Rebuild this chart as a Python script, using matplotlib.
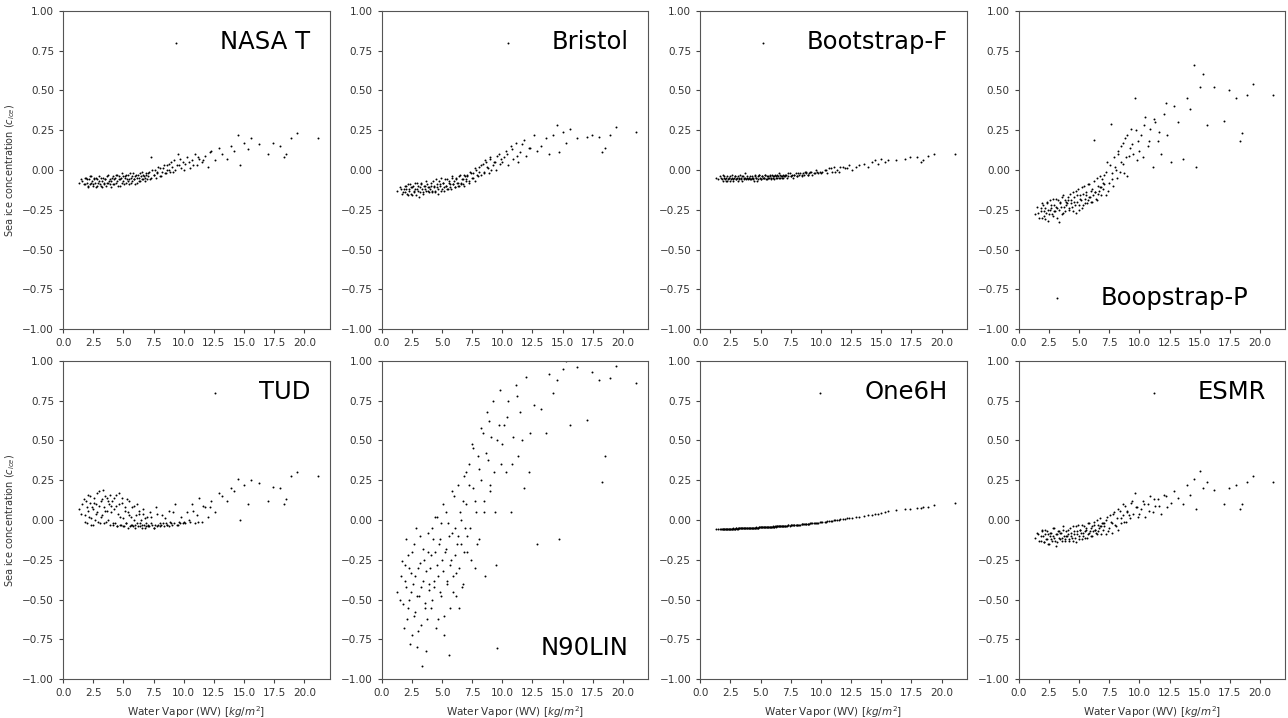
import matplotlib
matplotlib.use("Agg")
import matplotlib.pyplot as plt

# Water vapour (shared x for all panels)
x_wv = [1.3, 1.6, 1.8, 1.9, 2.0, 2.1, 2.2, 2.3, 2.4, 2.5, 2.6, 2.7, 2.8, 2.9, 3.0, 3.1, 3.2, 3.3, 3.4, 3.5, 3.6, 3.7, 3.8, 3.9,
        4.0, 4.1, 4.2, 4.3, 4.4, 4.5, 4.6, 4.7, 4.8, 4.9, 5.0, 5.1, 5.2, 5.3, 5.4, 5.5, 5.6, 5.7, 5.8, 5.9,
        6.0, 6.1, 6.2, 6.3, 6.4, 6.5, 6.6, 6.7, 6.8, 6.9,
        7.0, 7.1, 7.2, 7.3, 7.5, 7.6, 7.7, 7.8, 8.0, 8.1, 8.2, 8.4, 8.5, 8.6, 8.8, 8.9, 9.0, 9.2, 9.3, 9.5, 9.6, 9.8, 9.9,
        10.1, 10.3, 10.5, 10.7, 10.9, 11.1, 11.3, 11.5, 11.8, 12.0, 12.3, 12.6, 12.9,
        13.2, 13.6, 13.9, 14.2, 14.5, 14.7, 15.0, 15.3, 15.6, 16.2,
        17.0, 17.4, 18.0, 18.3, 18.5, 18.9, 19.4, 21.1,
        1.5, 1.7, 1.85, 1.95, 2.05, 2.15, 2.25, 2.35, 2.45, 2.55, 2.65, 2.75, 2.85, 2.95, 3.05, 3.15, 3.25, 3.35, 3.45, 3.55, 3.65, 3.75, 3.85, 3.95,
        4.05, 4.15, 4.25, 4.35, 4.45, 4.55, 4.65, 4.75, 4.85, 4.95, 5.05, 5.15, 5.25, 5.35, 5.45, 5.55, 5.65, 5.75, 5.85, 5.95,
        6.05, 6.15, 6.25, 6.35, 6.45, 6.55, 6.65, 6.75, 6.85, 6.95,
        7.05, 7.25, 7.4, 7.55, 7.75, 7.9, 8.05, 8.25, 8.45, 8.65, 8.75, 8.95, 9.1, 9.4, 9.7,
        10.0, 10.4, 10.8, 11.2, 11.6, 12.2]

y_nasat = [-0.08, -0.07, -0.09, -0.05, -0.06, -0.10, -0.04, -0.08, -0.07, -0.09, -0.05, -0.11, -0.06, -0.08, -0.04, -0.10, -0.07, -0.05, -0.09, -0.06, -0.08, -0.03, -0.07, -0.09,
           -0.07, -0.04, -0.09, -0.05, -0.08, -0.03, -0.06, -0.10, -0.05, -0.02, -0.07, -0.04, -0.08, -0.06, -0.03, -0.09, -0.05, -0.07, -0.02, -0.06,
           -0.04, -0.08, -0.03, -0.05, -0.07, -0.01, -0.06, -0.04, -0.07, -0.03,
           -0.04, -0.01, -0.06, 0.08, -0.03, 0.00, -0.05, -0.02, 0.01, -0.04, -0.01, 0.03, -0.02, 0.00, 0.04, -0.01, 0.02, 0.06, 0.00, 0.10, 0.03, 0.01, 0.05,
           0.04, 0.08, 0.01, 0.06, 0.10, 0.03, 0.07, 0.05, 0.09, 0.02, 0.12, 0.06, 0.14,
           0.10, 0.07, 0.15, 0.12, 0.22, 0.03, 0.17, 0.13, 0.20, 0.16,
           0.10, 0.17, 0.15, 0.08, 0.10, 0.20, 0.23, 0.20,
           -0.06, -0.09, -0.05, -0.08, -0.11, -0.06, -0.09, -0.04, -0.10, -0.06, -0.08, -0.05, -0.10, -0.07, -0.09, -0.05, -0.11, -0.08, -0.06, -0.10, -0.04, -0.08, -0.06, -0.11,
           -0.05, -0.09, -0.06, -0.03, -0.07, -0.10, -0.04, -0.06, -0.08, -0.04, -0.09, -0.05, -0.03, -0.07, -0.06, -0.02, -0.08, -0.04, -0.06, -0.09,
           -0.03, -0.05, -0.07, -0.02, -0.04, -0.06, -0.03, -0.05, -0.02, -0.06,
           -0.02, -0.05, 0.00, -0.03, -0.01, 0.02, -0.04, 0.01, -0.02, 0.03, 0.00, 0.05, -0.01, 0.03, 0.07,
           0.00, 0.05, 0.03, 0.08, 0.06, 0.11]

y_bristol = [-0.13, -0.12, -0.14, -0.10, -0.12, -0.15, -0.09, -0.13, -0.11, -0.16, -0.10, -0.14, -0.12, -0.08, -0.13, -0.17, -0.11, -0.09, -0.14, -0.10, -0.12, -0.07, -0.13, -0.11,
             -0.12, -0.08, -0.14, -0.10, -0.13, -0.06, -0.11, -0.15, -0.09, -0.05, -0.12, -0.08, -0.13, -0.10, -0.06, -0.12, -0.08, -0.11, -0.04, -0.09,
             -0.07, -0.11, -0.05, -0.08, -0.10, -0.03, -0.09, -0.06, -0.10, -0.04,
             -0.06, -0.03, -0.08, -0.01, -0.05, -0.02, -0.07, 0.00, -0.04, 0.02, -0.03, 0.04, -0.01, 0.06, 0.01, -0.02, 0.08, 0.03, 0.05, 0.00, 0.09, 0.04, 0.07,
             0.08, 0.12, 0.03, 0.15, 0.07, 0.17, 0.05, 0.11, 0.19, 0.09, 0.14, 0.22, 0.12,
             0.15, 0.20, 0.10, 0.22, 0.28, 0.11, 0.24, 0.17, 0.26, 0.20,
             0.21, 0.22, 0.21, 0.11, 0.14, 0.22, 0.27, 0.24,
             -0.11, -0.15, -0.12, -0.14, -0.10, -0.16, -0.12, -0.09, -0.15, -0.11, -0.13, -0.08, -0.16, -0.12, -0.10, -0.14, -0.08, -0.12, -0.15, -0.10, -0.13, -0.09, -0.11, -0.14,
             -0.10, -0.13, -0.07, -0.11, -0.14, -0.09, -0.12, -0.07, -0.10, -0.13, -0.08, -0.11, -0.06, -0.10, -0.12, -0.07, -0.09, -0.12, -0.05, -0.09,
             -0.11, -0.06, -0.08, -0.10, -0.04, -0.08, -0.06, -0.09, -0.03, -0.07,
             -0.04, -0.07, -0.02, -0.05, 0.01, -0.03, -0.01, 0.03, -0.02, 0.05, 0.02, 0.07, 0.00, 0.05, 0.10,
             0.05, 0.10, 0.13, 0.09, 0.16, 0.14]

y_bootf = [-0.05, -0.04, -0.06, -0.03, -0.05, -0.07, -0.04, -0.06, -0.05, -0.07, -0.03, -0.06, -0.05, -0.04, -0.06, -0.07, -0.05, -0.03, -0.06, -0.04, -0.05, -0.02, -0.06, -0.05,
           -0.05, -0.04, -0.06, -0.05, -0.06, -0.03, -0.05, -0.07, -0.04, -0.03, -0.06, -0.04, -0.05, -0.05, -0.03, -0.06, -0.04, -0.05, -0.03, -0.05,
           -0.04, -0.06, -0.03, -0.04, -0.05, -0.02, -0.05, -0.04, -0.05, -0.03,
           -0.04, -0.03, -0.05, -0.02, -0.04, -0.03, -0.05, -0.03, -0.04, -0.02, -0.03, -0.04, -0.02, -0.03, -0.01, -0.03, -0.02, -0.01, -0.03, -0.02, 0.00, -0.02, -0.01,
           -0.01, 0.00, -0.02, 0.01, -0.01, 0.02, 0.00, -0.01, 0.02, 0.01, 0.03, 0.00, 0.02,
           0.03, 0.04, 0.02, 0.05, 0.06, 0.04, 0.07, 0.05, 0.06, 0.06,
           0.07, 0.08, 0.08, 0.05, 0.06, 0.09, 0.10, 0.10,
           -0.06, -0.05, -0.07, -0.04, -0.06, -0.05, -0.07, -0.05, -0.04, -0.06, -0.05, -0.07, -0.04, -0.06, -0.05, -0.04, -0.06, -0.05, -0.07, -0.04, -0.06, -0.05, -0.04, -0.06,
           -0.05, -0.06, -0.04, -0.05, -0.07, -0.04, -0.05, -0.06, -0.03, -0.05, -0.06, -0.04, -0.05, -0.03, -0.06, -0.04, -0.05, -0.04, -0.06, -0.03,
           -0.05, -0.04, -0.05, -0.03, -0.04, -0.05, -0.03, -0.04, -0.05, -0.04,
           -0.03, -0.04, -0.02, -0.04, -0.03, -0.02, -0.04, -0.02, -0.03, -0.01, -0.02, -0.03, -0.01, -0.02, -0.01,
           -0.02, 0.00, 0.01, -0.01, 0.02, 0.01]

y_bootp = [-0.28, -0.27, -0.24, -0.30, -0.22, -0.26, -0.31, -0.21, -0.25, -0.28, -0.19, -0.24, -0.29, -0.22, -0.26, -0.18, -0.24, -0.33, -0.20, -0.23, -0.17, -0.27, -0.19, -0.22,
           -0.21, -0.17, -0.25, -0.19, -0.23, -0.14, -0.20, -0.27, -0.16, -0.12, -0.22, -0.18, -0.24, -0.15, -0.10, -0.21, -0.16, -0.19, -0.09, -0.17,
           -0.13, -0.20, 0.19, -0.14, -0.18, -0.05, -0.15, -0.11, -0.16, -0.06,
           -0.12, -0.03, -0.16, 0.05, -0.08, 0.29, -0.02, -0.10, 0.02, -0.05, 0.10, -0.01, 0.15, 0.04, 0.20, 0.08, -0.04, 0.14, 0.26, 0.10, 0.45, 0.06, 0.18,
           0.22, 0.08, 0.33, 0.15, 0.26, 0.02, 0.30, 0.18, 0.10, 0.35, 0.22, 0.05, 0.40,
           0.30, 0.07, 0.45, 0.38, 0.66, 0.02, 0.52, 0.60, 0.28, 0.52,
           0.31, 0.50, 0.45, 0.18, 0.23, 0.47, 0.54, 0.47,
           -0.23, -0.30, -0.26, -0.21, -0.29, -0.24, -0.27, -0.20, -0.32, -0.25, -0.22, -0.28, -0.18, -0.26, -0.23, -0.30, -0.19, -0.25, -0.21, -0.28, -0.16, -0.23, -0.26, -0.20,
           -0.19, -0.24, -0.15, -0.21, -0.26, -0.17, -0.22, -0.13, -0.20, -0.25, -0.16, -0.19, -0.11, -0.22, -0.18, -0.14, -0.21, -0.09, -0.17, -0.20,
           -0.12, -0.16, -0.07, -0.14, -0.19, -0.10, -0.13, -0.04, -0.11, -0.08,
           -0.09, -0.01, -0.13, 0.03, -0.06, 0.08, 0.00, 0.12, 0.05, 0.17, -0.02, 0.22, 0.09, 0.16, 0.25,
           0.12, 0.28, 0.18, 0.32, 0.24, 0.42]

y_tud = [0.07, 0.10, 0.03, 0.12, -0.02, 0.06, 0.15, 0.01, 0.08, -0.03, 0.11, 0.04, 0.17, -0.01, 0.09, 0.02, 0.13, 0.19, -0.02, 0.06, 0.14, 0.00, 0.10, 0.16,
         0.05, -0.03, 0.14, -0.02, 0.09, -0.04, 0.17, 0.02, -0.03, 0.11, -0.04, 0.06, -0.02, 0.13, -0.05, 0.03, -0.03, 0.08, -0.04, 0.00,
         -0.03, 0.10, -0.04, 0.04, -0.02, -0.05, 0.07, -0.03, 0.01, -0.04,
         -0.03, -0.04, 0.05, -0.02, -0.05, -0.03, 0.08, -0.04, -0.02, -0.03, 0.03, -0.04, -0.02, -0.03, 0.06, -0.01, -0.03, -0.02, 0.10, -0.03, -0.01, 0.02, -0.02,
         -0.02, 0.05, -0.01, 0.10, -0.02, 0.03, 0.14, -0.01, 0.08, 0.02, 0.12, 0.05, 0.17,
         0.15, 0.12, 0.20, 0.18, 0.26, 0.00, 0.22, 0.10, 0.25, 0.23,
         0.12, 0.21, 0.20, 0.10, 0.13, 0.28, 0.30, 0.28,
         0.04, 0.13, -0.01, 0.08, 0.16, 0.02, 0.11, -0.03, 0.07, 0.14, 0.00, 0.10, 0.05, 0.18, -0.02, 0.12, 0.03, 0.08, 0.15, -0.01, 0.06, 0.12, -0.03, 0.09,
         0.12, -0.02, 0.07, 0.16, -0.04, 0.04, 0.10, -0.03, 0.14, 0.01, -0.04, 0.08, -0.02, 0.05, 0.12, -0.04, 0.02, -0.03, 0.09, -0.05,
         0.03, -0.02, 0.06, -0.04, 0.00, -0.03, 0.04, -0.05, -0.02, 0.02,
         -0.04, 0.02, -0.03, -0.05, 0.04, -0.03, -0.04, -0.02, 0.01, -0.03, -0.04, -0.02, 0.05, -0.03, -0.02,
         -0.01, 0.00, 0.06, -0.01, 0.09, 0.08]

y_n90lin = [-0.45, -0.35, -0.53, -0.28, -0.42, -0.62, -0.22, -0.50, -0.33, -0.72, -0.40, -0.15, -0.58, -0.80, -0.30, -0.48, -0.10, -0.66, -0.38, -0.25, -0.55, -0.82, -0.20, -0.44,
            -0.30, -0.55, -0.05, -0.42, -0.20, -0.68, 0.02, -0.35, -0.12, -0.48, -0.25, 0.10, -0.60, -0.18, -0.38, -0.02, -0.85, -0.28, -0.08, -0.45,
            0.15, -0.22, -0.33, -0.10, -0.55, 0.05, -0.15, -0.40, 0.28, -0.05,
            0.10, -0.20, 0.35, -0.05, 0.48, 0.20, -0.30, 0.05, 0.40, -0.12, 0.25, 0.55, 0.12, -0.35, 0.38, 0.62, 0.18, 0.75, 0.30, -0.28, 0.50, 0.82, 0.35,
            0.60, 0.30, 0.75, 0.05, 0.52, 0.85, 0.40, 0.68, 0.20, 0.90, 0.55, 0.72, -0.15,
            0.70, 0.55, 0.92, 0.80, 0.88, -0.12, 0.95, 1.00, 0.60, 0.96,
            0.63, 0.93, 0.88, 0.24, 0.40, 0.89, 0.97, 0.86,
            -0.50, -0.26, -0.68, -0.38, -0.12, -0.55, -0.30, -0.78, -0.45, -0.20, -0.60, -0.35, -0.05, -0.48, -0.70, -0.27, -0.42, -0.92, -0.18, -0.52, -0.32, -0.62, -0.08, -0.40,
            -0.22, -0.50, -0.12, -0.38, 0.02, -0.28, -0.62, -0.15, -0.45, -0.02, -0.32, -0.72, -0.20, 0.05, -0.40, -0.10, -0.55, -0.25, 0.18, -0.35,
            -0.05, -0.48, -0.15, 0.22, -0.30, 0.00, -0.42, 0.12, -0.20, 0.30,
            -0.10, 0.22, -0.25, 0.45, 0.12, -0.15, 0.32, 0.58, 0.05, 0.42, 0.68, 0.22, 0.52, 0.05, 0.60,
            0.48, 0.65, 0.35, 0.78, 0.50, 0.30]

y_one6h = [-0.057, -0.056, -0.056, -0.055, -0.055, -0.056, -0.054, -0.055, -0.054, -0.055, -0.053, -0.054, -0.053, -0.053, -0.052, -0.053, -0.052, -0.051, -0.052, -0.051, -0.051, -0.050, -0.051, -0.050,
           -0.050, -0.049, -0.050, -0.048, -0.049, -0.047, -0.048, -0.047, -0.047, -0.046, -0.046, -0.045, -0.046, -0.044, -0.044, -0.045, -0.043, -0.043, -0.042, -0.043,
           -0.041, -0.042, -0.040, -0.041, -0.039, -0.040, -0.038, -0.039, -0.037, -0.038,
           -0.037, -0.036, -0.036, -0.034, -0.034, -0.032, -0.033, -0.031, -0.030, -0.029, -0.029, -0.027, -0.026, -0.026, -0.024, -0.023, -0.023, -0.020, -0.021, -0.018, -0.017, -0.016, -0.015,
           -0.012, -0.010, -0.008, -0.006, -0.004, -0.002, 0.000, 0.002, 0.004, 0.007, 0.010, 0.013, 0.017,
           0.022, 0.027, 0.030, 0.034, 0.038, 0.041, 0.046, 0.050, 0.054, 0.062,
           0.068, 0.072, 0.078, 0.075, 0.080, 0.085, 0.092, 0.105,
           -0.056, -0.055, -0.056, -0.054, -0.055, -0.054, -0.055, -0.053, -0.054, -0.053, -0.054, -0.052, -0.053, -0.052, -0.053, -0.051, -0.052, -0.051, -0.052, -0.050, -0.051, -0.050, -0.051, -0.049,
           -0.049, -0.050, -0.048, -0.049, -0.047, -0.048, -0.046, -0.047, -0.046, -0.045, -0.046, -0.044, -0.045, -0.043, -0.044, -0.042, -0.043, -0.042, -0.041, -0.042,
           -0.040, -0.041, -0.039, -0.040, -0.038, -0.039, -0.037, -0.038, -0.036, -0.037,
           -0.037, -0.034, -0.035, -0.032, -0.031, -0.031, -0.029, -0.028, -0.026, -0.025, -0.023, -0.022, -0.020, -0.018, -0.016,
           -0.014, -0.009, -0.005, 0.000, 0.004, 0.010]

y_esmr = [-0.11, -0.09, -0.13, -0.07, -0.10, -0.14, -0.06, -0.12, -0.09, -0.15, -0.08, -0.12, -0.10, -0.05, -0.13, -0.16, -0.09, -0.07, -0.12, -0.08, -0.11, -0.04, -0.13, -0.10,
          -0.10, -0.06, -0.13, -0.08, -0.11, -0.04, -0.09, -0.14, -0.07, -0.03, -0.10, -0.06, -0.12, -0.08, -0.04, -0.11, -0.06, -0.09, -0.02, -0.07,
          -0.05, -0.10, -0.03, -0.06, -0.08, 0.00, -0.07, -0.04, -0.09, -0.02,
          -0.06, -0.02, -0.09, 0.02, -0.05, -0.01, -0.08, 0.04, -0.03, 0.01, -0.06, 0.06, -0.02, 0.03, 0.09, -0.01, 0.05, 0.01, 0.11, 0.04, 0.17, 0.08, 0.02,
          0.07, 0.12, 0.02, 0.10, 0.15, 0.05, 0.09, 0.13, 0.04, 0.16, 0.08, 0.11, 0.18,
          0.14, 0.10, 0.22, 0.16, 0.26, 0.07, 0.31, 0.20, 0.24, 0.19,
          0.10, 0.20, 0.22, 0.07, 0.10, 0.24, 0.28, 0.24,
          -0.08, -0.13, -0.10, -0.06, -0.14, -0.09, -0.12, -0.07, -0.15, -0.10, -0.08, -0.13, -0.05, -0.11, -0.09, -0.14, -0.07, -0.11, -0.08, -0.13, -0.06, -0.10, -0.12, -0.07,
          -0.09, -0.12, -0.05, -0.10, -0.13, -0.07, -0.11, -0.04, -0.09, -0.12, -0.06, -0.08, -0.03, -0.10, -0.07, -0.05, -0.11, -0.02, -0.08, -0.10,
          -0.04, -0.07, -0.01, -0.06, -0.09, -0.03, -0.05, 0.01, -0.04, -0.02,
          -0.04, 0.00, -0.07, 0.03, -0.02, 0.05, -0.04, 0.07, 0.01, 0.10, -0.01, 0.06, 0.03, 0.12, 0.08,
          0.04, 0.10, 0.06, 0.13, 0.09, 0.15]

panel_names = ["NASA T", "Bristol", "Bootstrap-F", "Boopstrap-P", "TUD", "N90LIN", "One6H", "ESMR"]
panel_values = [y_nasat, y_bristol, y_bootf, y_bootp, y_tud, y_n90lin, y_one6h, y_esmr]
legend_locs = ["upper right", "upper right", "upper right", "lower right",
               "upper right", "lower right", "upper right", "upper right"]
legend_anchor = [(1, 1), (1, 1), (1, 1), (0.933, 0), (1, 1), (1, 0), (1, 1), (1, 1)]

fig, axes = plt.subplots(2, 4, figsize=(12.88, 7.18), dpi=100)
fig.subplots_adjust(left=0.049, right=0.998, top=0.985, bottom=0.054, wspace=0.195, hspace=0.1)

for i, ax in enumerate(axes.flat):
    ax.scatter(x_wv, panel_values[i], s=2, c="k", linewidths=0, label=panel_names[i])
    ax.set_xlim(0, 22.1)
    ax.set_ylim(-1, 1)
    ax.set_xticks([0, 2.5, 5, 7.5, 10, 12.5, 15, 17.5, 20])
    ax.set_yticks([-1, -0.75, -0.5, -0.25, 0, 0.25, 0.5, 0.75, 1])
    ax.tick_params(labelsize=7.5, length=3, color="#444444", labelcolor="#333333")
    for sp in ax.spines.values():
        sp.set_color("#555555")
    ax.legend(loc=legend_locs[i], bbox_to_anchor=legend_anchor[i], frameon=False,
              fontsize=17.5, markerscale=1.0, borderaxespad=0.4)
    if i % 4 == 0:
        ax.set_ylabel("Sea ice concentration ($c_{ice}$)", fontsize=7, color="#333333")
    if i >= 4:
        ax.set_xlabel("Water Vapor (WV) [$kg/m^2$]", fontsize=7.5, color="#333333")

fig.savefig("out.png", dpi=100)
